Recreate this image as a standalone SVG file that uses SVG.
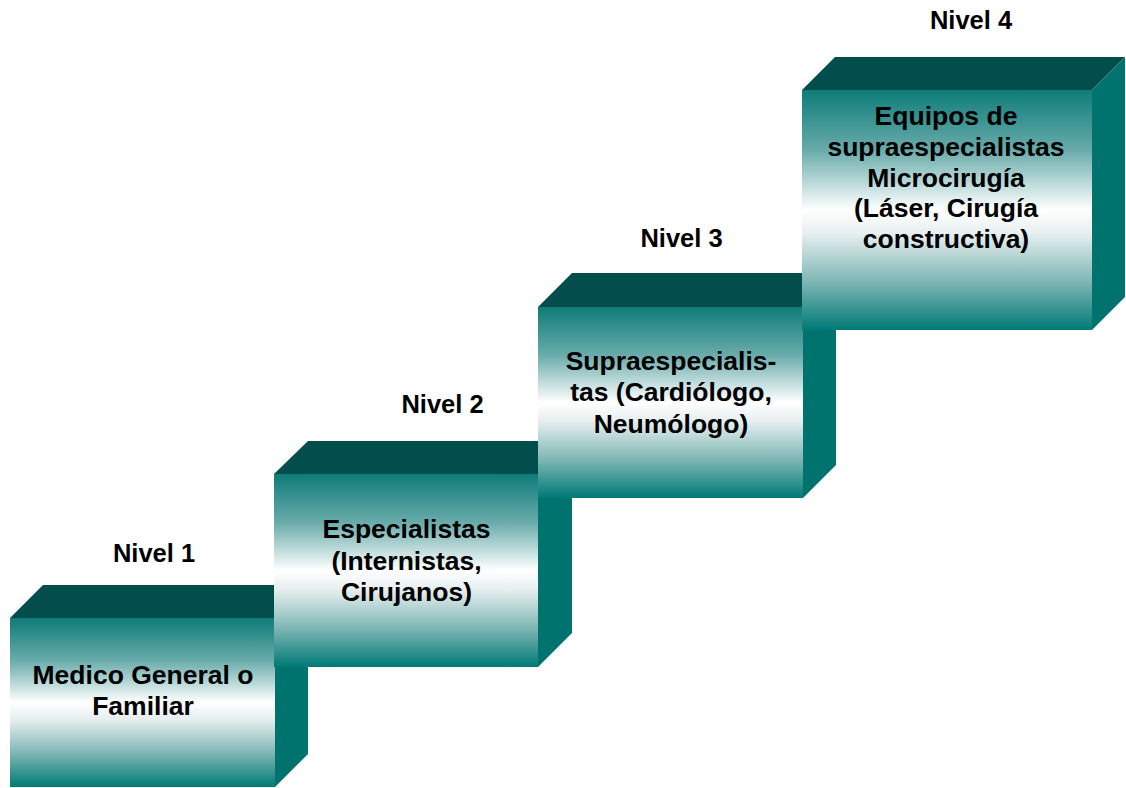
<svg xmlns="http://www.w3.org/2000/svg" width="1126" height="788" viewBox="0 0 1126 788">
  <defs>
    <!-- vertical shading of each block's front face -->
    <linearGradient id="frontShade" x1="0" y1="0" x2="0" y2="1">
      <stop offset="0" stop-color="#0e7c79"/>
      <stop offset="0.25" stop-color="#68abaa"/>
      <stop offset="0.5" stop-color="#ffffff"/>
      <stop offset="0.6" stop-color="#e6eeef"/>
      <stop offset="0.8" stop-color="#7db6b4"/>
      <stop offset="1" stop-color="#007a76"/>
    </linearGradient>
    <style>
      .top { fill: #034e4d; }
      .side { fill: #00736f; }
      .front { fill: url(#frontShade); }
      text { font-family: "Liberation Sans", Arial, Helvetica, sans-serif; font-weight: bold; fill: #000000; text-anchor: middle; }
      .level { font-size: 25.5px; }
      .body { font-size: 26.5px; }
    </style>
  </defs>
  <rect width="1126" height="788" fill="#ffffff"/>

  <!-- Level 1 -->
  <g id="nivel1">
    <polygon class="top" points="10,618 43,585 308,585 275,618"/>
    <polygon class="side" points="275,618 308,585 308,754 275,787"/>
    <rect class="front" x="10" y="618" width="265" height="169"/>
    <text class="level" x="154" y="562">Nivel 1</text>
    <text class="body" x="143" y="683.5">Medico General o</text>
    <text class="body" x="143" y="715">Familiar</text>
  </g>

  <!-- Level 2 -->
  <g id="nivel2">
    <polygon class="top" points="274,474 308,441 572,441 538,474"/>
    <polygon class="side" points="538,474 572,441 572,633 538,667"/>
    <rect class="front" x="274" y="474" width="264" height="193"/>
    <text class="level" x="442.5" y="412.5">Nivel 2</text>
    <text class="body" x="406.5" y="538">Especialistas</text>
    <text class="body" x="406.5" y="569.5">(Internistas,</text>
    <text class="body" x="406.5" y="601">Cirujanos)</text>
  </g>

  <!-- Level 3 -->
  <g id="nivel3">
    <polygon class="top" points="538,307 572,273 836,273 803,307"/>
    <polygon class="side" points="803,307 836,273 836,465 803,498"/>
    <rect class="front" x="538" y="307" width="265" height="191"/>
    <text class="level" x="681.5" y="246.5">Nivel 3</text>
    <text class="body" x="671" y="369.5">Supraespecialis-</text>
    <text class="body" x="671" y="401">tas (Cardiólogo,</text>
    <text class="body" x="671" y="432.5">Neumólogo)</text>
  </g>

  <!-- Level 4 -->
  <g id="nivel4">
    <polygon class="top" points="802,90 835,57 1125,57 1092,90"/>
    <polygon class="side" points="1092,90 1125,57 1125,297 1092,330"/>
    <rect class="front" x="802" y="90" width="290" height="240"/>
    <text class="level" x="971" y="29">Nivel 4</text>
    <text class="body" x="946" y="124.5">Equipos de</text>
    <text class="body" x="946" y="155.5">supraespecialistas</text>
    <text class="body" x="946" y="186.5">Microcirugía</text>
    <text class="body" x="946" y="217">(Láser, Cirugía</text>
    <text class="body" x="946" y="248">constructiva)</text>
  </g>

  <!-- no connectors: the blocks abut one another as steps -->
  <g id="connectors"/>
</svg>
